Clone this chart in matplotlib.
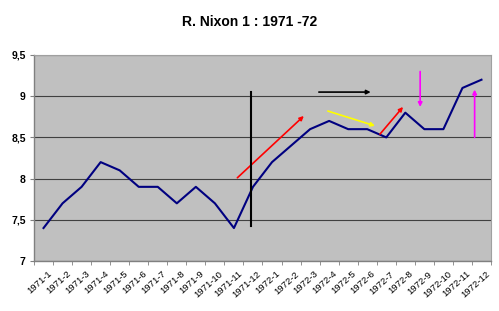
import matplotlib.pyplot as plt
import numpy as np

months = [f"1971-{m}" for m in range(1, 13)] + [f"1972-{m}" for m in range(1, 13)]
rate = [7.4, 7.7, 7.9, 8.2, 8.1, 7.9, 7.9, 7.7, 7.9, 7.7, 7.4, 7.9,
        8.2, 8.4, 8.6, 8.7, 8.6, 8.6, 8.5, 8.8, 8.6, 8.6, 9.1, 9.2]
y_ticks = [7, 7.5, 8, 8.5, 9, 9.5]

# annotation arrows: (x0, y0, x1, y1, colour), x in category positions
arrows = [
    (10.18, 8.01, 13.67, 8.76, 'red'),
    (14.46, 9.05, 17.18, 9.05, 'black'),
    (14.93, 8.82, 17.41, 8.64, 'yellow'),
    (17.67, 8.54, 18.88, 8.87, 'red'),
    (19.78, 9.30, 19.78, 8.87, 'magenta'),
    (22.64, 8.50, 22.64, 9.08, 'magenta'),
]
vline = (10.92, 7.42, 9.05)

fig = plt.figure(figsize=(4.99, 3.11), dpi=100)
ax = fig.add_axes([34 / 499, 1 - 261 / 311, 457 / 499, 206 / 311])
ax.set_facecolor('#c0c0c0')

x = np.arange(len(months))
ax.plot(x, rate, color='#000080', lw=1.5, zorder=3)

for x0, y0, x1, y1, c in arrows:
    ax.annotate('', xy=(x1, y1), xytext=(x0, y0),
                arrowprops=dict(arrowstyle='-|>', color=c, lw=1.2,
                                mutation_scale=6, shrinkA=0, shrinkB=0),
                zorder=4)
ax.plot([vline[0], vline[0]], [vline[1], vline[2]], color='black', lw=1.5, zorder=4)

ax.set_xlim(-0.5, len(months) - 0.5)
ax.set_ylim(7, 9.5)
ax.set_yticks(y_ticks)
ax.set_yticklabels([str(v).replace('.', ',').replace(',0', '') for v in y_ticks],
                   fontsize=7.5, fontweight='bold', family='Liberation Sans')
ax.yaxis.grid(True, color='#404040', lw=0.8)
ax.set_axisbelow(True)

ax.set_xticks(x + 0.2)
ax.set_xticklabels(months, rotation=42, ha='right', rotation_mode='anchor',
                   fontsize=6.8, family='Liberation Sans')
ax.tick_params(axis='x', length=0, pad=6)
ax.set_xticks(np.arange(-0.5, len(months)), minor=True)
ax.tick_params(axis='x', which='minor', length=3, color='#808080', direction='out')
ax.tick_params(axis='y', length=3, color='#808080', direction='out', pad=3)

for side in ['top', 'right']:
    ax.spines[side].set_color('#a0a0a0')
    ax.spines[side].set_linewidth(0.8)
for side in ['left', 'bottom']:
    ax.spines[side].set_color('#808080')
    ax.spines[side].set_linewidth(1.0)

fig.text(0.5, 1 - 22 / 311, 'R. Nixon 1 : 1971 -72', ha='center', va='center',
         fontsize=10, fontweight='bold', family='Liberation Sans')

fig.savefig('out.png', dpi=100)
